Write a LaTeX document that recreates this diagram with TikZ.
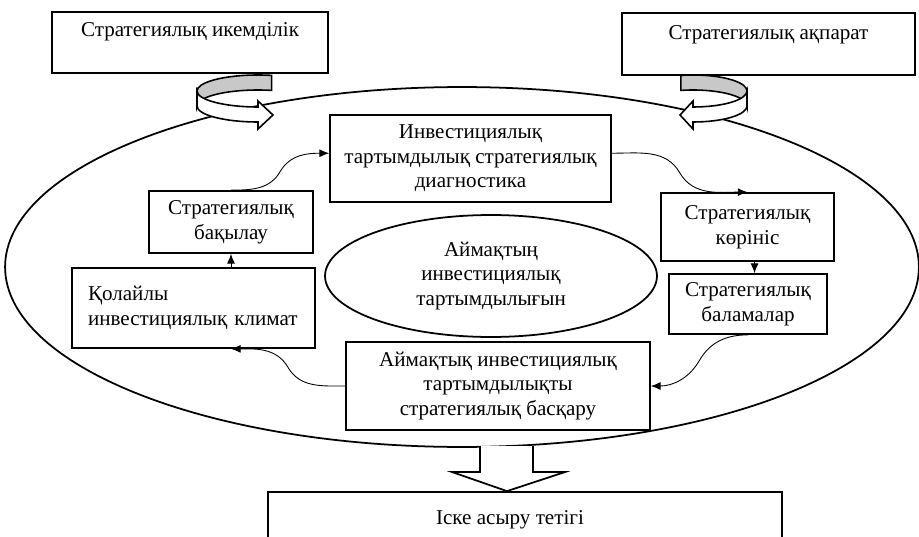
\documentclass[tikz,border=0pt]{standalone}
\usepackage{fontspec}
\setmainfont{Liberation Serif}
\usetikzlibrary{shapes.geometric,arrows.meta,calc}
\definecolor{ringgray}{RGB}{200,200,200}

\begin{document}
\begin{tikzpicture}[>={Latex[length=5.5pt,width=4.5pt]}, x=0.02cm, y=0.02cm,
        every node/.style={font=\fontsize{12}{14}\selectfont},
        box/.style={draw, line width=1pt, align=center, inner sep=2pt},
        conn/.style={->, line width=0.5pt},
        ring/.style={draw, line width=0.9pt}]
    \useasboundingbox (0,0) rectangle (919,-537);
    % outer ellipse
    \node[draw, ellipse, line width=1pt, minimum width=18.28cm, minimum height=7.2cm, inner sep=0pt] (outer) at (462,-267) {};
    % top boxes
    \node[box, minimum width=5.52cm, minimum height=1.22cm, text height=0.5cm, text depth=0.72cm, inner ysep=0pt] (ikem) at (190,-42.5) {Стратегиялық икемділік};
    \node[box, minimum width=5.86cm, minimum height=1.24cm, text height=0.52cm, text depth=0.72cm, inner ysep=0pt] (akparat) at (768.5,-44) {Стратегиялық ақпарат};
    % inner boxes
    \node[box, minimum width=5.62cm, minimum height=1.74cm] (diag) at (470.5,-158.5) {Инвестициялық\\тартымдылық стратегиялық\\диагностика};
    \node[box, minimum width=3.28cm, minimum height=1.24cm] (bakylau) at (231,-222) {Стратегиялық\\бақылау};
    \node[box, minimum width=4.86cm, minimum height=1.6cm, text width=4.22cm, inner xsep=0.32cm, align=left] (klimat) at (193.5,-308) {Қолайлы\\инвестициялық климат};
    \node[draw, ellipse, line width=1pt, minimum width=6.64cm, minimum height=2.44cm, inner sep=0pt, align=center] (aimak) at (491,-276) {Аймақтың\\инвестициялық\\тартымдылығын};
    \node[box, minimum width=3.46cm, minimum height=1.36cm] (korinis) at (747.5,-227) {Стратегиялық\\көрініс};
    \node[box, minimum width=3.16cm, minimum height=1.2cm] (balamalar) at (748,-304) {Стратегиялық\\баламалар};
    \node[box, minimum width=6.08cm, minimum height=1.76cm] (baskaru) at (498,-386) {Аймақтық инвестициялық\\тартымдылықты\\стратегиялық басқару};
    \node[box, minimum width=10.28cm, minimum height=1.12cm] (iske) at (525,-520) {Іске асыру тетігі\hspace*{0.6cm}};
    % block arrow down
    \draw[line width=1pt, fill=white] (480,-446) -- (480,-472) -- (452,-472) -- (iske.north -| 507,0) -- (565,-472) -- (533,-472) -- (533,-446);
    % connectors
    \draw[conn] (bakylau.north) to[out=0,in=-120] ($(bakylau.north)!0.5!([yshift=3pt]diag.west)$) to[out=60,in=180] ([yshift=3pt]diag.west);
    \draw[conn] ([yshift=3pt]diag.east) to[out=0,in=120] ($([yshift=3pt]diag.east)!0.5!(korinis.north)$) to[out=-60,in=180] (korinis.north);
    \draw[conn] ([xshift=4pt]korinis.south) -- ([xshift=4pt]korinis.south |- balamalar.north);
    \draw[conn] (balamalar.south) to[out=180,in=60] ($(balamalar.south)!0.5!(baskaru.east)$) to[out=-120,in=0] (baskaru.east);
    \draw[conn] (baskaru.west) to[out=180,in=-60] ($(baskaru.west)!0.5!(klimat.south -| bakylau.south)$) to[out=120,in=0] (klimat.south -| bakylau.south);
    \draw[conn] (bakylau.south |- klimat.north) -- (bakylau.south);
    % turning arrows
    \draw[ring, fill=ringgray] (271.7,-75.4) arc[start angle=77, end angle=180, x radius=1.22cm, y radius=0.32cm] -- ++(0,-15) arc[start angle=180, end angle=77, x radius=1.22cm, y radius=0.32cm] -- cycle;
    \draw[ring, fill=white] (197,-91) arc[start angle=180, end angle=270, x radius=1.22cm, y radius=0.32cm] -- ++(0,6) -- ++(15,-14) -- ++(-15,-14) -- ++(0,7) arc[start angle=270, end angle=180, x radius=1.22cm, y radius=0.32cm] -- cycle;
    \draw[ring, fill=ringgray] (680.9,-75.4) arc[start angle=103, end angle=0, x radius=1.08cm, y radius=0.32cm] -- ++(0,-15) arc[start angle=0, end angle=103, x radius=1.08cm, y radius=0.32cm] -- cycle;
    \draw[ring, fill=white] (747,-91) arc[start angle=360, end angle=270, x radius=1.08cm, y radius=0.32cm] -- ++(0,6) -- ++(-13,-14) -- ++(13,-14) -- ++(0,7) arc[start angle=270, end angle=360, x radius=1.08cm, y radius=0.32cm] -- cycle;
\end{tikzpicture}
\end{document}
